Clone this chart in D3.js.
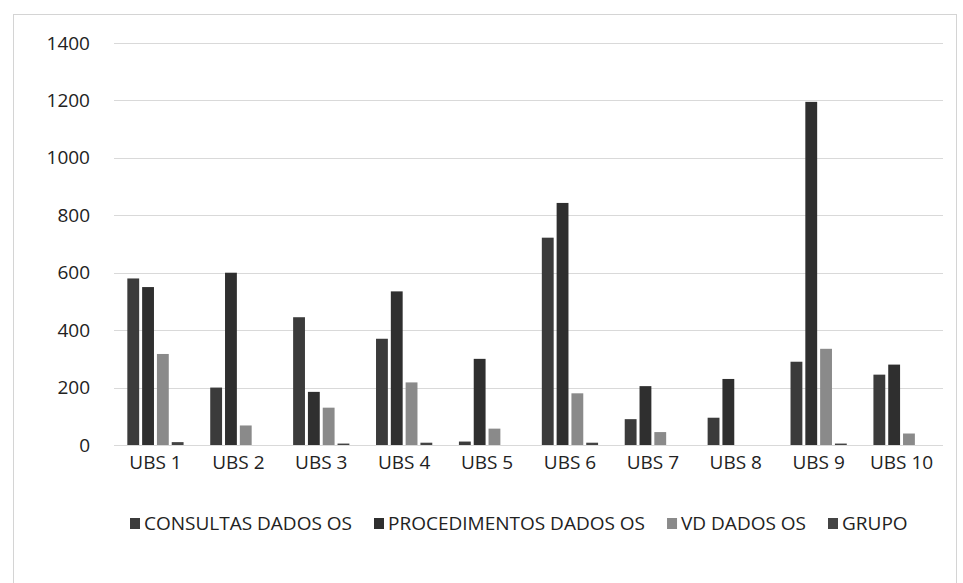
<!DOCTYPE html>
<html lang="pt">
  <head>
    <meta charset="UTF-8" />
    <title>UBS chart</title>
    <script src="https://cdnjs.cloudflare.com/ajax/libs/d3/7.8.5/d3.min.js"></script>
    <style>
      body {
        margin: 0;
        background: #fff;
        font-family: "Open Sans", "Noto Sans", sans-serif;
      }
    </style>
  </head>
  <body>
    <div id="chart"></div>
    <script>
      // data
      const categories = ["UBS 1", "UBS 2", "UBS 3", "UBS 4", "UBS 5", "UBS 6", "UBS 7", "UBS 8", "UBS 9", "UBS 10"];
      const seriesNames = ["CONSULTAS DADOS OS", "PROCEDIMENTOS DADOS OS", "VD DADOS OS", "GRUPO"];
      const consultas = [580, 200, 445, 370, 12, 722, 90, 95, 290, 245];
      const procedimentos = [550, 600, 185, 535, 300, 843, 205, 230, 1195, 280];
      const vd = [317, 68, 130, 218, 57, 180, 45, 0, 335, 40];
      const grupo = [10, 0, 5, 8, 0, 8, 0, 0, 5, 0];
      const yTicks = [0, 200, 400, 600, 800, 1000, 1200, 1400];
      const colors = ["#3b3b3b", "#2f2f2f", "#8a8a8a", "#444444"];

      const width = 963;
      const height = 583;
      const margin = { top: 43, right: 20, bottom: 138, left: 114 };
      const fontSize = 19;

      const svg = d3
        .select("#chart")
        .append("svg")
        .attr("width", width)
        .attr("height", height);

      // outer frame of the scanned chart
      svg
        .append("rect")
        .attr("x", 13.5)
        .attr("y", 14.5)
        .attr("width", width - 20)
        .attr("height", height - 10)
        .attr("fill", "none")
        .attr("stroke", "#d4d4d4");

      const x = d3
        .scaleBand()
        .domain(categories)
        .range([margin.left, 943]);

      const y = d3
        .scaleLinear()
        .domain([0, 1400])
        .range([445, margin.top]);

      const x1 = d3
        .scaleBand()
        .domain(seriesNames)
        .range([0, x.bandwidth()])
        .paddingInner(0.2)
        .paddingOuter(0.9);

      // gridlines
      svg
        .append("g")
        .selectAll("line")
        .data(yTicks)
        .enter()
        .append("line")
        .attr("x1", margin.left)
        .attr("x2", 943)
        .attr("y1", (d) => Math.round(y(d)) + 0.5)
        .attr("y2", (d) => Math.round(y(d)) + 0.5)
        .attr("stroke", "#d9d9d9")
        .attr("stroke-width", 1.2);

      // y axis labels
      const yAxis = d3
        .axisLeft(y)
        .tickValues(yTicks)
        .tickFormat(d3.format("d"))
        .tickSize(0)
        .tickPadding(24);
      const yg = svg.append("g").attr("transform", `translate(${margin.left},0)`).call(yAxis);
      yg.select(".domain").remove();
      yg.selectAll("text")
        .attr("font-family", "'Open Sans', sans-serif")
        .attr("font-size", fontSize)
        .attr("fill", "#222");

      // bars
      const table = categories.map((c, i) => ({
        cat: c,
        values: [consultas[i], procedimentos[i], vd[i], grupo[i]],
      }));

      const groups = svg
        .append("g")
        .selectAll("g")
        .data(table)
        .enter()
        .append("g")
        .attr("transform", (d) => `translate(${x(d.cat)},0)`);

      groups
        .selectAll("rect")
        .data((d) => d.values.map((v, j) => ({ v, s: seriesNames[j], j })))
        .enter()
        .append("rect")
        .attr("x", (d) => x1(d.s))
        .attr("y", (d) => y(d.v))
        .attr("width", x1.bandwidth())
        .attr("height", (d) => y(0) - y(d.v))
        .attr("fill", (d) => colors[d.j]);

      // x axis labels
      const xAxis = d3.axisBottom(x).tickSize(0).tickPadding(11);
      const xg = svg.append("g").attr("transform", "translate(0,445)").call(xAxis);
      xg.select(".domain").remove();
      xg.selectAll("text")
        .attr("font-family", "'Open Sans', sans-serif")
        .attr("font-size", fontSize)
        .attr("fill", "#222");

      // legend, items laid out one after another
      const legend = svg.append("g").attr("transform", "translate(0,523)");
      let lx = 130;
      seriesNames.forEach((name, i) => {
        const g = legend.append("g").attr("transform", `translate(${lx},0)`);
        g.append("rect")
          .attr("x", 0)
          .attr("y", -5)
          .attr("width", 10)
          .attr("height", 11)
          .attr("fill", colors[i]);
        const t = g
          .append("text")
          .attr("x", 14)
          .attr("y", 0)
          .attr("dy", "0.35em")
          .attr("font-family", "'Open Sans', sans-serif")
          .attr("font-size", fontSize)
          .attr("fill", "#222")
          .text(name);
        lx += 14 + t.node().getComputedTextLength() + 22;
      });
    </script>
  </body>
</html>
